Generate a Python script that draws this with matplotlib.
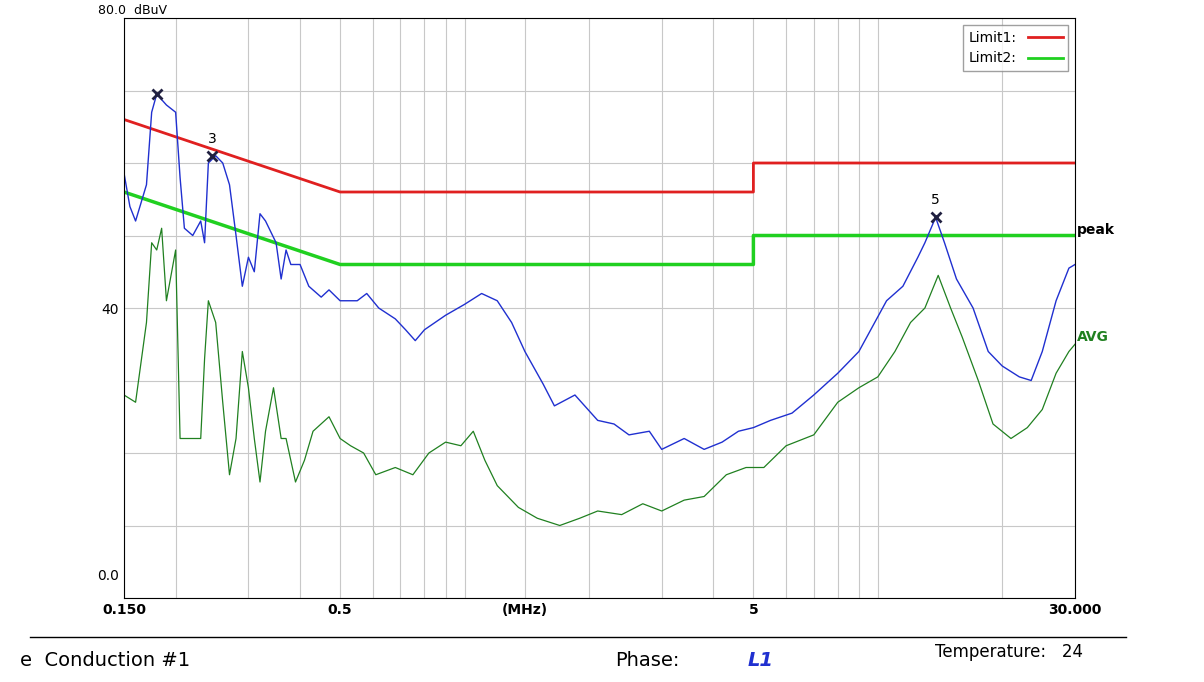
import matplotlib
matplotlib.use("Agg")
import matplotlib.pyplot as plt
from matplotlib.ticker import NullFormatter
import numpy as np

peak_f = [0.15,0.155,0.16,0.17,0.175,0.18,0.19,0.20,0.205,0.21,0.22,0.23,0.235,0.24,0.25,0.26,0.27,0.28,0.29,0.30,0.31,0.32,0.33,0.35,0.36,0.37,0.38,0.40,0.42,0.45,0.47,0.50,0.55,0.58,0.62,0.68,0.72,0.76,0.80,0.90,1.0,1.1,1.2,1.3,1.4,1.55,1.65,1.85,2.1,2.3,2.5,2.8,3.0,3.4,3.8,4.2,4.6,5.0,5.5,6.2,7.0,8.0,9.0,10.5,11.5,12.5,13.0,13.8,14.5,15.5,17,18.5,20,22,23.5,25,27,29,30]
peak_v = [58.6,54,52,57,67,69.5,68,67,58,51,50,52,49,60,61,60,57,50,43,47,45,53,52,49,44,48,46,46,43,41.5,42.5,41,41,42,40,38.5,37,35.5,37,39,40.5,42,41,38,34,29.5,26.5,28,24.5,24,22.5,23,20.5,22,20.5,21.5,23,23.5,24.5,25.5,28,31,34,41,43,47,49,52.5,49,44,40,34,32,30.5,30,34,41,45.5,46]
avg_f = [0.15,0.16,0.17,0.175,0.18,0.185,0.19,0.20,0.205,0.22,0.23,0.235,0.24,0.25,0.26,0.27,0.28,0.29,0.30,0.31,0.32,0.33,0.345,0.36,0.37,0.39,0.41,0.43,0.47,0.50,0.53,0.57,0.61,0.68,0.75,0.82,0.90,0.98,1.05,1.12,1.2,1.35,1.5,1.7,1.9,2.1,2.4,2.7,3.0,3.4,3.8,4.3,4.8,5.3,6.0,7.0,8.0,9.0,10,11,12,13,14,15,16,17.5,19,21,23,25,27,29,30]
avg_v = [28,27,38,49,48,51,41,48,22,22,22,33,41,38,27,17,22,34,29,22,16,23,29,22,22,16,19,23,25,22,21,20,17,18,17,20,21.5,21,23,19,15.5,12.5,11,10,11,12,11.5,13,12,13.5,14,17,18,18,21,22.5,27,29,30.5,34,38,40,44.5,40,36,30,24,22,23.5,26,31,34,35]
lim1_f = [0.15,0.5,5,5,30]; lim1_v = [66,56,56,60,60]
lim2_f = [0.15,0.5,5,5,30]; lim2_v = [56,46,46,50,50]
marks = [(0.18,69.5,""),(0.245,61,"3"),(13.8,52.5,"5")]

fig = plt.figure(figsize=(12.04,6.82), dpi=100)
ax = fig.add_axes([124/1204, 1-598/682, 951/1204, 580/682])
ax.set_xscale('log'); ax.set_xlim(0.15,30); ax.set_ylim(0,80)
ax.plot(lim1_f, lim1_v, color='#e02020', lw=2)
ax.plot(lim2_f, lim2_v, color='#20d020', lw=2.5)
ax.plot(avg_f, avg_v, color='#208020', lw=0.9)
ax.plot(peak_f, peak_v, color='#2030d0', lw=1.0)
for f,v,t in marks:
    ax.plot(f, v, 'x', color='#202040', ms=7, mew=2)
    if t: ax.text(f, v+1.8, t, ha='center', fontsize=10)
ax.set_yticks(np.arange(0,81,10)); ax.set_yticklabels(['','','','','40','','','',''])
ax.text(-0.005, 2, '0.0', transform=ax.get_yaxis_transform(), ha='right', va='bottom', fontsize=10)
mins = [f*m for m in [0.1,1,10] for f in range(1,10)]
ax.set_xticks([0.15,0.5,1.4,5,30]); ax.set_xticklabels(['0.150','0.5','(MHz)','5','30.000'], fontweight='bold', fontsize=10)
ax.set_xticks([m for m in mins if 0.15<m<30], minor=True)
ax.xaxis.set_minor_formatter(NullFormatter())
ax.tick_params(which='both', length=0, labelsize=10)
ax.grid(True, which='both', color='#c8c8c8', lw=0.8)
ax.text(1.002, 50.2, 'peak', transform=ax.get_yaxis_transform(), fontsize=10, fontweight='bold')
ax.text(1.002, 35.5, 'AVG', transform=ax.get_yaxis_transform(), fontsize=10, color='#208020', fontweight='bold')
ax.legend([plt.Line2D([],[],color='#e02020',lw=2), plt.Line2D([],[],color='#20d020',lw=2)], ['Limit1:','Limit2:'],
          loc='upper right', markerfirst=False, frameon=True, fancybox=False, edgecolor='#888', fontsize=10, handlelength=2.5)
fig.text(98/1204, 1-4/682, '80.0  dBuV', fontsize=9, va='top')
fig.add_artist(plt.Line2D([0.025,0.935],[1-637/682]*2, color='black', lw=1))
fig.text(20/1204, 1-660/682, 'e  Conduction #1', fontsize=14, va='center')
fig.text(615/1204, 1-660/682, 'Phase:', fontsize=14, va='center')
fig.text(748/1204, 1-660/682, 'L1', fontsize=14, va='center', color='#2030d0', style='italic', fontweight='bold')
fig.text(935/1204, 1-652/682, 'Temperature:   24', fontsize=12, va='center')
fig.savefig('out.png')
